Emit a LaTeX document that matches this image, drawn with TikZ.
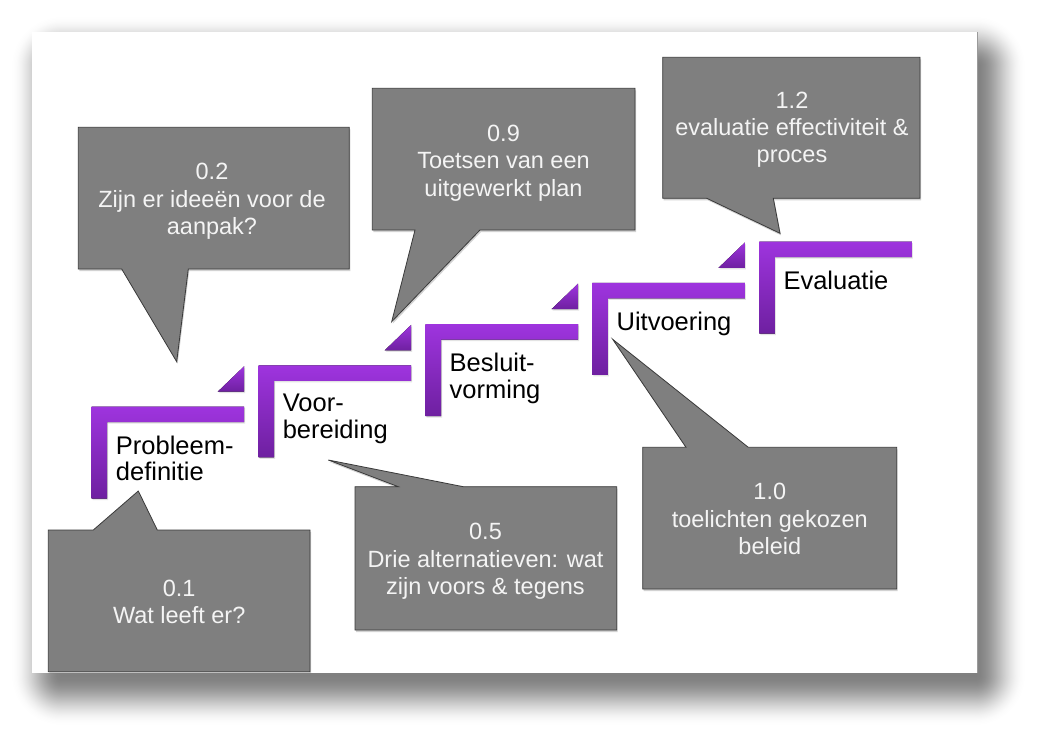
\documentclass[tikz,border=0pt]{standalone}
\usepackage{fontspec}
\setmainfont{Liberation Sans}
\usetikzlibrary{shadows}
\definecolor{callfill}{HTML}{7F7F7F}
\definecolor{calldraw}{HTML}{3A3A3A}
\definecolor{calltext}{HTML}{F4F4F4}
\definecolor{purpletop}{RGB}{158,52,222}
\definecolor{purplebot}{RGB}{110,32,160}
\definecolor{framedge}{HTML}{9A9A9A}

\pgfdeclarehorizontalshading{fadestrip}{100bp}{color(0bp)=(black!50); color(25bp)=(black!50);
  color(30bp)=(black!48.6); color(35bp)=(black!44.8); color(40bp)=(black!39.2);
  color(45bp)=(black!32.4); color(50bp)=(black!25); color(55bp)=(black!17.6);
  color(60bp)=(black!10.8); color(65bp)=(black!5.2); color(70bp)=(black!1.4);
  color(75bp)=(white); color(100bp)=(white)}
\pgfdeclareradialshading{fadecorner}{\pgfpoint{0bp}{0bp}}{color(0bp)=(black!50);
  color(2.5bp)=(black!48.6); color(5bp)=(black!44.8); color(7.5bp)=(black!39.2);
  color(10bp)=(black!32.4); color(12.5bp)=(black!25); color(15bp)=(black!17.6);
  color(17.5bp)=(black!10.8); color(20bp)=(black!5.2); color(22.5bp)=(black!1.4);
  color(25bp)=(white); color(50bp)=(white)}

\newcommand\stairstep[4]{%
  \fill[stepshade] (#2,#3) -- ++(152.5,0) -- ++(0,15.5) -- ++(-137,0) -- ++(0,76.5) -- ++(-15.5,0) -- cycle;
  \node[steplabel] (#1) at (#2+24,#3+28.7) {#4};
}
\newcommand\stairtri[2]{%
  \fill[stepshade] (#1+126,#2-15) -- (#1+152.5,#2-40.5) -- (#1+152.5,#2-15) -- cycle;
}
\newcommand\shadowcorner[4]{% corner x, y, dir x, dir y
  \begin{scope}
    \clip (#1,#2) rectangle (#1+#3*50,#2+#4*50);
    \shade[shading=fadecorner] (#1-50,#2-50) rectangle (#1+50,#2+50);
  \end{scope}
}

\begin{document}
\begin{tikzpicture}[x=1pt,y=-1pt,
  stepshade/.style={top color=purpletop, bottom color=purplebot,
     drop shadow={shadow xshift=1pt,shadow yshift=-1.5pt,opacity=0.22}},
  steplabel/.style={anchor=north west, inner sep=0pt, align=left,
     font=\fontsize{25.5}{26.5}\selectfont, text=black},
  callout/.style={fill=callfill, draw=calldraw, line width=0.8pt, line join=miter,
     drop shadow={shadow xshift=1pt,shadow yshift=-2pt,opacity=0.35}},
  calltxt/.style={anchor=north, inner sep=0pt, align=center, text=calltext,
     font=\fontsize{23.5}{27.3}\selectfont}]
\useasboundingbox (0,0) rectangle (1041,739);
\fill[white] (0,0) rectangle (1041,739);
% frame shadow: core, four fading strips, four fading corners
\fill[black!50] (61,66) rectangle (975,675);
\shade[shading=fadestrip, shading angle=0] (975,66) rectangle (1025,675);
\shade[shading=fadestrip, shading angle=-90] (61,675) rectangle (975,725);
\shade[shading=fadestrip, shading angle=180] (11,66) rectangle (61,675);
\shade[shading=fadestrip, shading angle=90] (61,16) rectangle (975,66);
\shadowcorner{975}{675}{1}{1}
\shadowcorner{61}{675}{-1}{1}
\shadowcorner{975}{66}{1}{-1}
\shadowcorner{61}{66}{-1}{-1}
\fill[white] (32,32) rectangle (977,673);
\draw[framedge, line width=0.7pt] (977,32) -- (977,673);

% steps
\stairstep{s1}{91.7}{406.7}{Probleem-\\definitie}
\stairtri{91.7}{406.7}
\stairstep{s2}{258.6}{365.45}{Voor-\\bereiding}
\stairtri{258.6}{365.45}
\stairstep{s3}{425.5}{324.2}{Besluit-\\vorming}
\stairtri{425.5}{324.2}
\stairstep{s4}{592.4}{282.95}{Uitvoering}
\stairtri{592.4}{282.95}
\stairstep{s5}{759.3}{241.7}{Evaluatie}

% callouts
\draw[callout] (48.3,530) -- (93.3,530) -- (138.3,491) -- (157.3,530) -- (310,530) -- (310,671.7) -- (48.3,671.7) -- cycle;
\node[calltxt] (c01) at (179.2,579.9) {0.1\\Wat leeft er?};

\draw[callout] (78.3,127.3) -- (349.3,127.3) -- (349.3,269) -- (188.3,269) -- (176.7,361.7) -- (121.7,269) -- (78.3,269) -- cycle;
\node[calltxt] (c02) at (212,163.2) {0.2\\Zijn er ideeën voor de\\aanpak?};

\draw[callout] (372.3,88.3) -- (635,88.3) -- (635,230) -- (480,230) -- (391.7,321.7) -- (415,230) -- (372.3,230) -- cycle;
\node[calltxt] (c09) at (503.5,124.9) {0.9\\Toetsen van een\\uitgewerkt plan};

\draw[callout] (662.7,57.3) -- (920,57.3) -- (920,198.3) -- (773.3,198.3) -- (780,233.3) -- (706.7,198.3) -- (662.7,198.3) -- cycle;
\node[calltxt] (c12) at (792,91.5) {1.2\\evaluatie effectiviteit \&\\proces};

\draw[callout] (355,486.7) -- (398.3,486.7) -- (328.3,460) -- (463.3,486.7) -- (616.7,486.7) -- (616.7,630) -- (355,630) -- cycle;
\node[calltxt] (c05) at (485.5,523.2) {0.5\\Drie alternatieven: wat\\zijn voors \& tegens};

\draw[callout] (642.7,447.3) -- (686,447.3) -- (612.7,339.3) -- (748.3,447.3) -- (896.7,447.3) -- (896.7,589) -- (642.7,589) -- cycle;
\node[calltxt] (c10) at (769.8,483.2) {1.0\\toelichten gekozen\\beleid};
\end{tikzpicture}
\end{document}
